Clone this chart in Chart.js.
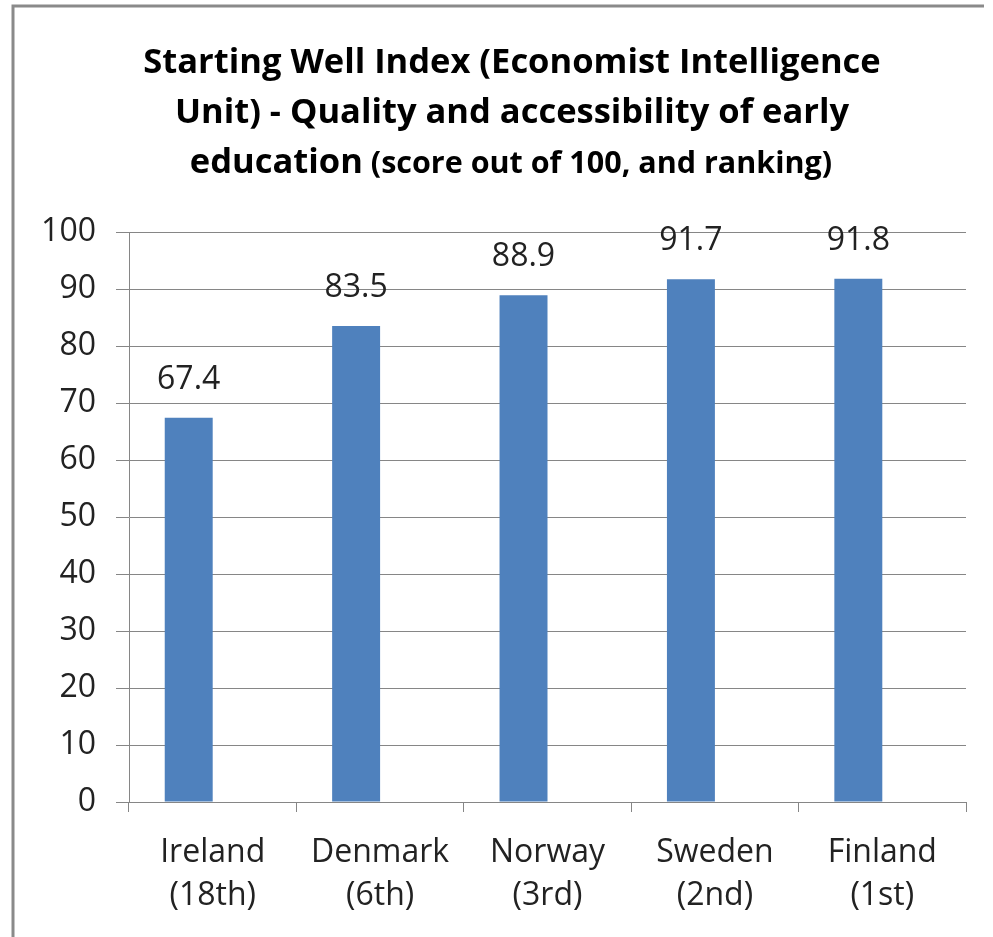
<!DOCTYPE html>
<html>
<head>
<meta charset="utf-8">
<script src="https://cdn.jsdelivr.net/npm/chart.js@4.4.1/dist/chart.umd.min.js"></script>
<style>
  body { margin: 0; background: #fff; }
  #wrap { position: relative; width: 993px; height: 937px; }
</style>
</head>
<body>
<div id="wrap"><canvas id="chart"></canvas></div>
<script>
const countries = [['Ireland', '(18th)'], ['Denmark', '(6th)'], ['Norway', '(3rd)'], ['Sweden', '(2nd)'], ['Finland', '(1st)']];
const scores = [67.4, 83.5, 88.9, 91.7, 91.8];
const titleLines = ['Starting Well Index (Economist Intelligence', 'Unit) - Quality and accessibility of early'];
const titleLast = ['education', ' (score out of 100, and ranking)'];

const FONT = "'Open Sans', 'Noto Sans', sans-serif";
const gridColor = '#868686';

// frame + title, drawn by hand so the last line can mix two sizes
const decorPlugin = {
  id: 'decor',
  beforeDraw(chart) {
    const ctx = chart.ctx;
    ctx.save();
    ctx.strokeStyle = '#8a8a8a';
    ctx.lineWidth = 3;
    ctx.beginPath();
    ctx.moveTo(13, 937);
    ctx.lineTo(13, 6);
    ctx.lineTo(984, 6);
    ctx.stroke();
    ctx.restore();
  },
  afterDraw(chart) {
    const ctx = chart.ctx;
    const cx = 512;
    ctx.save();
    ctx.fillStyle = '#000';
    ctx.textBaseline = 'alphabetic';
    ctx.textAlign = 'center';
    ctx.font = 'bold 34.5px ' + FONT;
    titleLines.forEach((line, i) => ctx.fillText(line, cx, 73 + i * 50));
    // third line: big word then smaller bracket part
    const big = 'bold 34.5px ' + FONT, small = 'bold 30.5px ' + FONT;
    ctx.font = big;
    const w1 = ctx.measureText(titleLast[0]).width;
    ctx.font = small;
    const w2 = ctx.measureText(titleLast[1]).width;
    let x = 511 - (w1 + w2) / 2;
    ctx.textAlign = 'left';
    ctx.font = big;
    ctx.fillText(titleLast[0], x, 173);
    ctx.font = small;
    ctx.fillText(titleLast[1], x + w1, 173);

    // value labels above bars
    const meta = chart.getDatasetMeta(0);
    ctx.font = '32px ' + FONT;
    ctx.fillStyle = '#222';
    ctx.textAlign = 'center';
    meta.data.forEach((bar, i) => {
      ctx.fillText(scores[i].toFixed(1), bar.x, bar.y - 29);
    });
    ctx.restore();
  }
};

new Chart(document.getElementById('chart'), {
  type: 'bar',
  data: {
    labels: countries,
    datasets: [
      { data: scores, backgroundColor: '#4F81BD', borderWidth: 0 },
      { data: [], backgroundColor: 'transparent' } // empty second series, as in the original sheet
    ]
  },
  options: {
    responsive: true,
    maintainAspectRatio: false,
    animation: false,
    events: [],
    layout: { padding: { top: 232, right: 27, bottom: 0, left: 0 } },
    plugins: { legend: { display: false }, tooltip: { enabled: false } },
    datasets: { bar: { categoryPercentage: 0.573, barPercentage: 1 } },
    scales: {
      y: {
        min: 0, max: 100,
        afterFit(scale) { scale.width = 129; },
        ticks: { stepSize: 10, color: '#222', padding: 20, font: { family: FONT, size: 32 } },
        grid: { color: gridColor, tickLength: 13, lineWidth: 1 },
        border: { color: gridColor }
      },
      x: {
        afterFit(scale) { scale.height = 135; },
        ticks: { color: '#222', padding: 19, font: { family: FONT, size: 32, lineHeight: 1.35 } },
        grid: { drawOnChartArea: false, color: gridColor, tickLength: 10, offset: true },
        border: { color: gridColor }
      }
    }
  },
  plugins: [decorPlugin]
});
</script>
</body>
</html>
